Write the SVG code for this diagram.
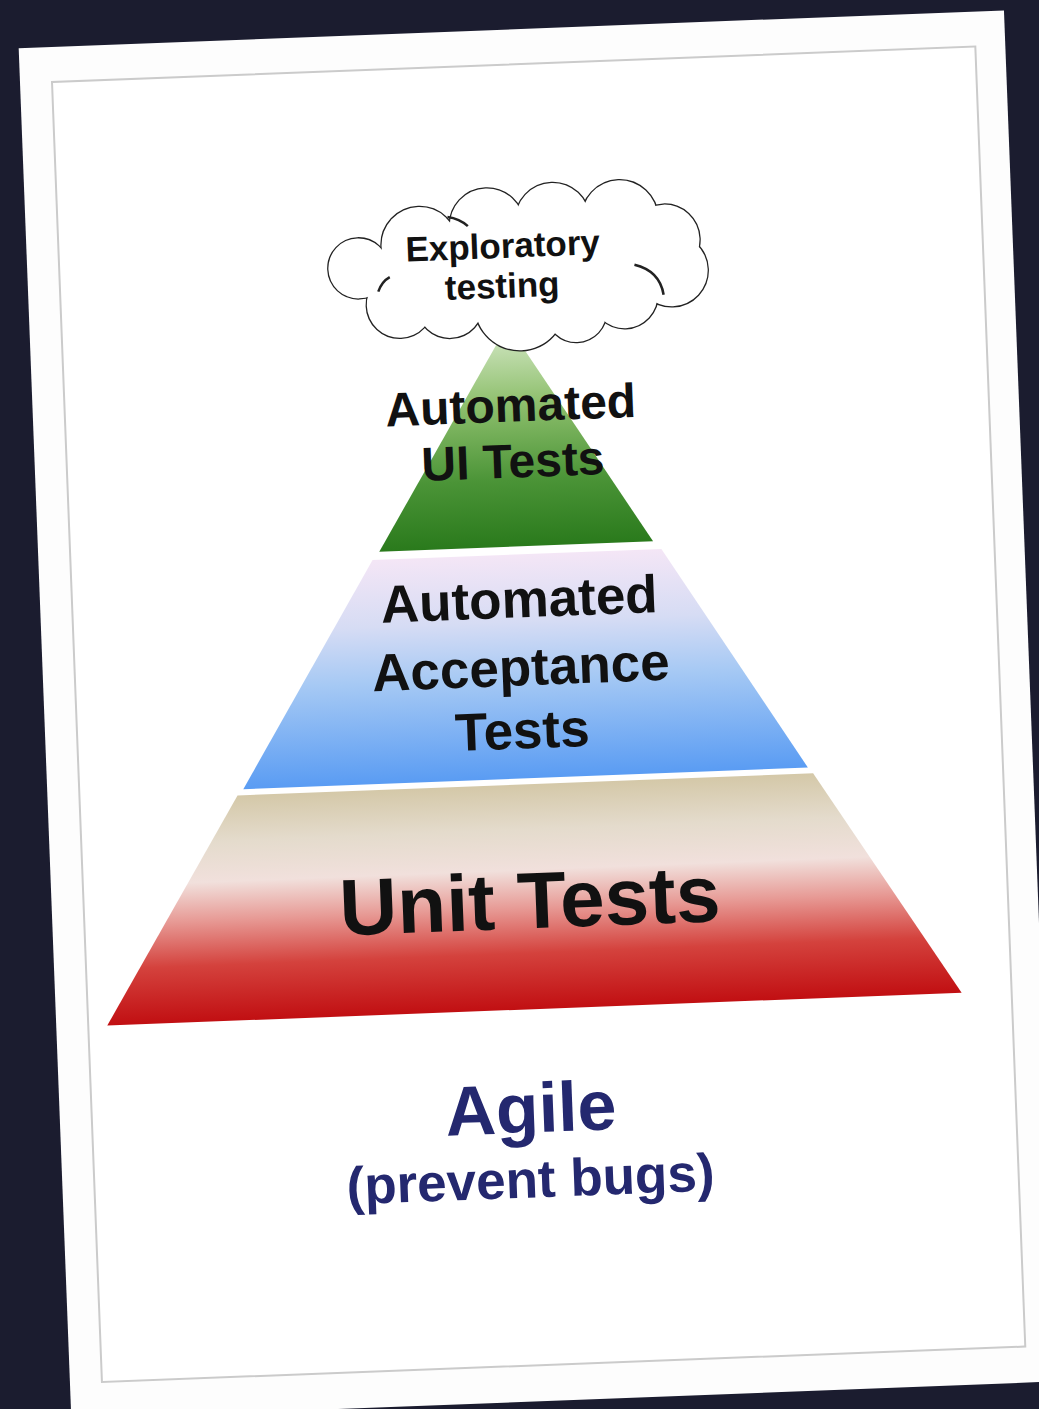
<svg xmlns="http://www.w3.org/2000/svg" width="1039" height="1409" viewBox="0 0 1039 1409">
<style>
.lbl{font-family:"Liberation Sans",Arial,sans-serif;font-weight:bold;fill:#111;text-anchor:middle}
.agile{font-family:"Liberation Sans",Arial,sans-serif;font-weight:bold;fill:#24286f;text-anchor:middle}
.cl-s{fill:none;stroke:#222;stroke-width:2.5}
.cl-f{fill:#fff;stroke:none}
</style>
<defs>
<linearGradient id="gGreen" gradientUnits="userSpaceOnUse" x1="0" y1="260" x2="0" y2="482">
<stop offset="0" stop-color="#d8eacb"/>
<stop offset="0.35" stop-color="#8fc06e"/>
<stop offset="0.7" stop-color="#4b9437"/>
<stop offset="1" stop-color="#2a7a1c"/>
</linearGradient>
<linearGradient id="gBlue" gradientUnits="userSpaceOnUse" x1="0" y1="490" x2="0" y2="714">
<stop offset="0" stop-color="#f4e6f6"/>
<stop offset="0.3" stop-color="#d6dcf4"/>
<stop offset="0.55" stop-color="#a6c9f4"/>
<stop offset="1" stop-color="#5a9cf3"/>
</linearGradient>
<linearGradient id="gRed" gradientUnits="userSpaceOnUse" x1="0" y1="720" x2="0" y2="945">
<stop offset="0" stop-color="#d4c8a8"/>
<stop offset="0.2" stop-color="#e4dbcc"/>
<stop offset="0.38" stop-color="#f1e0dc"/>
<stop offset="0.55" stop-color="#e79a95"/>
<stop offset="0.75" stop-color="#d4423d"/>
<stop offset="1" stop-color="#c10f12"/>
</linearGradient>
</defs>
<rect x="0" y="0" width="1039" height="1409" fill="#1b1c2f"/>
<g id="card" transform="translate(52,82) rotate(-2.2)">
<rect x="-32" y="-35" width="986" height="1372" fill="#fdfdfd"/>
<rect x="0" y="0" width="924" height="1301" fill="#fff" stroke="#cbcbcb" stroke-width="2"/>
<g id="connectors"></g>
<g id="tier-ui">
<polygon points="446,260 583,482 309,482" fill="url(#gGreen)"/>
<text class="lbl" x="446" y="357" font-size="48">Automated</text>
<text class="lbl" x="446" y="413" font-size="48">UI Tests</text>
</g>
<g id="tier-acceptance">
<polygon points="302,490 591,490 729,714 164,714" fill="url(#gBlue)"/>
<text class="lbl" x="447" y="553" font-size="53">Automated</text>
<text class="lbl" x="446" y="621" font-size="53">Acceptance</text>
<text class="lbl" x="445" y="684" font-size="53">Tests</text>
</g>
<g id="tier-unit">
<polygon points="158,720 734,720 874,945 19,945" fill="url(#gRed)"/>
<text class="lbl" x="446" y="864" font-size="80">Unit Tests</text>
</g>
<g id="cloud-exploratory">
<g class="cl-s">
<circle cx="299" cy="198" r="30"/>
<circle cx="339" cy="236" r="33"/>
<circle cx="361" cy="177" r="38"/>
<circle cx="429" cy="160" r="37"/>
<circle cx="495" cy="157" r="37"/>
<circle cx="562" cy="158" r="38"/>
<circle cx="606" cy="181" r="35"/>
<circle cx="612" cy="212" r="36"/>
<circle cx="564" cy="235" r="33"/>
<circle cx="515" cy="250" r="30"/>
<circle cx="459" cy="241" r="45"/>
<circle cx="389" cy="238" r="33"/>
</g>
<g class="cl-f">
<circle cx="299" cy="198" r="30"/>
<circle cx="339" cy="236" r="33"/>
<circle cx="361" cy="177" r="38"/>
<circle cx="429" cy="160" r="37"/>
<circle cx="495" cy="157" r="37"/>
<circle cx="562" cy="158" r="38"/>
<circle cx="606" cy="181" r="35"/>
<circle cx="612" cy="212" r="36"/>
<circle cx="564" cy="235" r="33"/>
<circle cx="515" cy="250" r="30"/>
<circle cx="459" cy="241" r="45"/>
<circle cx="389" cy="238" r="33"/>
<circle cx="328" cy="205" r="10"/>
<ellipse cx="458" cy="200" rx="130" ry="45"/>
</g>
<path class="cl-s" d="M575,205 Q600,212 603,236"/>
<path class="cl-s" d="M390,150 Q402,152 410,160"/>
<path class="cl-s" d="M318,222 Q322,212 330,208"/>
<text class="lbl" x="444" y="193" font-size="35" fill="#222">Exploratory</text>
<text class="lbl" x="442" y="233" font-size="35" fill="#222">testing</text>
</g>
<g id="caption">
<text class="agile" x="439" y="1068" font-size="70">Agile</text>
<text class="agile" x="436" y="1133" font-size="53">(prevent bugs)</text>
</g>
</g>
</svg>
